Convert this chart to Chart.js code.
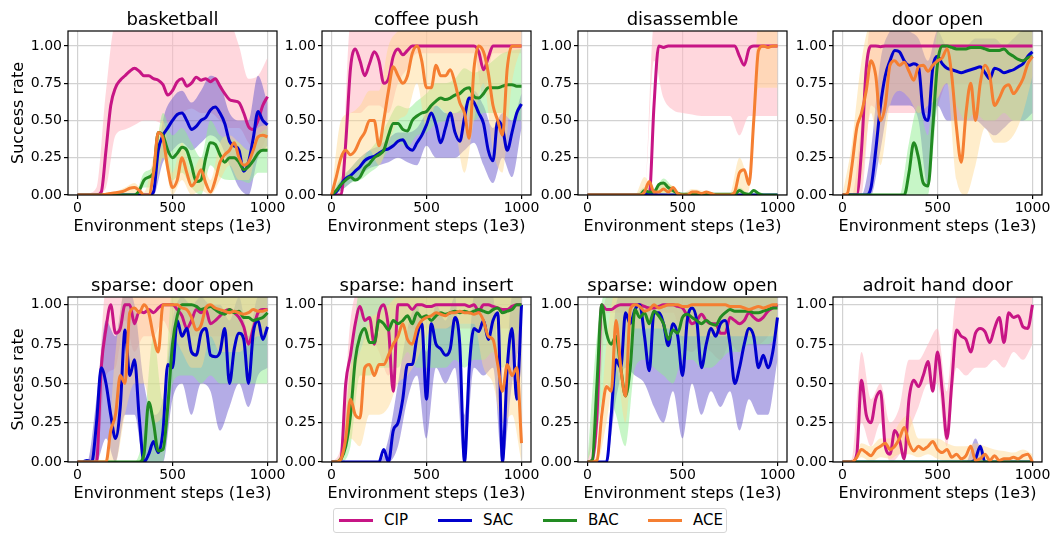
<!DOCTYPE html>
<html>
<head>
<meta charset="utf-8">
<script src="https://cdn.jsdelivr.net/npm/chart.js@4.4.1/dist/chart.umd.min.js"></script>
<style>
  body { margin: 0; background: #fff; font-family: 'DejaVu Sans', sans-serif; }
  #wrap { position: relative; width: 1059px; height: 539px; overflow: hidden; }
  canvas { position: absolute; }
  #legend { position: absolute; left: 333px; top: 508px; width: 394px; height: 25px;
            border: 1px solid #d6d6d6; border-radius: 3px; box-sizing: border-box; }
  .sw { position: absolute; top: 10px; width: 34px; height: 3px; }
  .lb { position: absolute; top: 3px; font-size: 15px; line-height: 17px; color: #000; }
</style>
</head>
<body>
<div id="wrap">
  <div id="legend"></div>
</div>
<script>
// x positions of the mean curves and of the shaded bands
const steps = [0,25,50,75,100,125,150,175,200,225,250,275,300,325,350,375,400,425,450,475,500,
  525,550,575,600,625,650,675,700,725,750,775,800,825,850,875,900,925,950,975,1000];
const bandSteps = [0,50,100,150,200,250,300,350,400,450,500,550,600,650,700,750,800,850,900,950,1000];
const xTicks = [0, 500, 1000];
const yTicks = [0, 0.25, 0.5, 0.75, 1.0];

const METHODS = ['CIP', 'SAC', 'BAC', 'ACE'];
const COLORS = { CIP: '#c71585', SAC: '#0000cd', BAC: '#228b22', ACE: '#f57f32' };
const BAND = { CIP: 'rgba(255,182,193,0.55)', SAC: 'rgba(106,90,205,0.5)',
               BAC: 'rgba(144,238,144,0.5)', ACE: 'rgba(255,215,140,0.45)' };

// --- basketball
const basketball = {
  CIP: [0,0,0,0,0,0.02,0.3,0.6,0.72,0.77,0.8,0.83,0.85,0.83,0.8,0.8,0.78,0.77,0.74,0.67,0.7,0.76,0.78,0.73,0.75,0.79,0.77,0.78,0.76,0.78,0.73,0.68,0.64,0.63,0.62,0.55,0.46,0.44,0.5,0.6,0.66],
  SAC: [0,0,0,0,0,0,0,0,0,0,0,0,0,0,0,0,0.02,0.3,0.4,0.45,0.5,0.54,0.55,0.5,0.44,0.46,0.5,0.52,0.57,0.59,0.55,0.48,0.36,0.33,0.3,0.16,0.22,0.38,0.56,0.5,0.47],
  BAC: [0,0,0,0,0,0,0,0,0,0,0,0,0,0.03,0.1,0.12,0.15,0.42,0.4,0.3,0.25,0.28,0.32,0.3,0.2,0.09,0.1,0.25,0.35,0.34,0.27,0.22,0.25,0.25,0.22,0.17,0.19,0.23,0.28,0.3,0.3],
  ACE: [0,0,0,0,0,0,0.005,0.01,0.015,0.02,0.03,0.045,0.05,0.03,0,0,0.15,0.42,0.38,0.18,0.05,0.1,0.25,0.15,0.06,0.1,0.17,0.08,0.02,0.1,0.22,0.27,0.3,0.35,0.25,0.2,0.22,0.3,0.39,0.4,0.39]
};
const basketballLo = {
  CIP: [0,0,0,0.05,0.4,0.44,0.47,0.5,0.5,0.48,0.5,0.55,0.58,0.55,0.55,0.5,0.45,0.45,0.35,0.28,0.4],
  SAC: [0,0,0,0,0,0,0,0,0,0.22,0.3,0.35,0.3,0.35,0.4,0.35,0.2,0.05,0,0.25,0.33],
  BAC: [0,0,0,0,0,0,0,0.05,0.05,0.25,0.1,0.15,0.05,0,0.2,0.12,0.1,0.1,0.08,0.15,0.15],
  ACE: [0,0,0,0,0,0,0,0,0,0.25,0,0.1,0,0.03,0,0.1,0.2,0.1,0.1,0.3,0.3]
};
const basketballHi = {
  CIP: [0,0.01,0.05,0.7,1.15,1.15,1.15,1.15,1.15,1.15,1.15,1.15,1.15,1.15,1.15,1.15,1.15,1.0,0.78,0.8,0.92],
  SAC: [0,0,0,0,0,0,0,0,0.05,0.5,0.65,0.7,0.62,0.7,0.8,0.75,0.55,0.5,0.5,0.8,0.62],
  BAC: [0,0,0,0,0,0,0,0.15,0.2,0.55,0.4,0.45,0.35,0.25,0.5,0.4,0.38,0.35,0.3,0.4,0.45],
  ACE: [0,0,0,0,0.02,0.05,0.08,0.02,0.25,0.5,0.15,0.35,0.15,0.25,0.1,0.35,0.4,0.35,0.3,0.45,0.47]
};

// --- coffee push
const coffeePush = {
  CIP: [0,0,0,0.35,0.85,0.98,0.9,0.8,0.88,0.96,0.9,0.75,0.78,0.93,0.98,0.94,0.97,1,1,1,1,1,1,1,1,1,1,1,1,1,1,0.96,0.84,0.92,1,1,1,1,1,1,1],
  SAC: [0,0.02,0.07,0.11,0.13,0.16,0.19,0.23,0.25,0.26,0.28,0.3,0.31,0.33,0.36,0.37,0.32,0.3,0.35,0.4,0.47,0.55,0.47,0.35,0.45,0.55,0.42,0.36,0.52,0.65,0.62,0.55,0.48,0.3,0.23,0.5,0.45,0.3,0.42,0.55,0.61],
  BAC: [0,0.03,0.07,0.1,0.12,0.1,0.12,0.18,0.21,0.25,0.27,0.3,0.4,0.48,0.48,0.44,0.43,0.5,0.53,0.55,0.56,0.6,0.63,0.65,0.64,0.65,0.67,0.68,0.71,0.72,0.66,0.65,0.68,0.72,0.72,0.72,0.73,0.74,0.74,0.73,0.73],
  ACE: [0,0.12,0.25,0.3,0.27,0.3,0.37,0.42,0.5,0.5,0.33,0.5,0.7,0.86,0.8,0.75,0.8,0.95,1,0.9,0.72,0.72,0.87,0.8,0.8,0.84,0.75,0.62,0.55,0.38,0.85,1,0.96,0.82,0.6,0.5,0.4,0.85,1,1,1]
};
const coffeePushLo = {
  CIP: [0,0,0.55,0.55,0.6,0.6,0.55,0.75,0.85,0.95,0.95,0.95,0.95,0.95,0.95,0.95,0.65,0.95,0.95,0.95,0.95],
  SAC: [0,0.03,0.08,0.13,0.18,0.2,0.22,0.25,0.22,0.2,0.33,0.25,0.25,0.25,0.3,0.35,0.2,0.08,0.25,0.12,0.45],
  BAC: [0,0.03,0.08,0.1,0.15,0.2,0.3,0.35,0.32,0.4,0.42,0.48,0.5,0.55,0.55,0.5,0.55,0.55,0.55,0.5,0.5],
  ACE: [0,0.1,0.15,0.2,0.3,0.2,0.35,0.5,0.55,0.75,0.45,0.6,0.55,0.45,0.15,0.5,0.75,0.3,0.15,0.75,1.0]
};
const coffeePushHi = {
  CIP: [0,0.05,1.15,1.15,1.15,1.15,1.15,1.15,1.15,1.15,1.15,1.15,1.15,1.15,1.15,1.15,1.15,1.15,1.15,1.15,1.15],
  SAC: [0,0.1,0.18,0.25,0.3,0.33,0.38,0.42,0.42,0.45,0.55,0.6,0.55,0.55,0.6,0.7,0.6,0.45,0.55,0.5,0.68],
  BAC: [0,0.12,0.18,0.25,0.3,0.38,0.5,0.6,0.58,0.63,0.68,0.75,0.75,0.78,0.85,0.82,0.85,0.9,0.95,0.97,0.98],
  ACE: [0,0.5,0.55,0.6,0.7,0.7,1.0,1.1,1.15,1.15,1.15,1.15,1.15,1.15,1.15,1.15,1.15,1.15,1.15,1.15,1.15]
};

// --- disassemble
const disassemble = {
  CIP: [0,0,0,0,0,0,0,0,0,0,0,0,0,0,0.6,1,0.99,1,1,1,1,1,1,1,1,1,1,1,1,1,1,1,0.93,0.87,0.98,1,1,1,1,1,1],
  SAC: [0,0,0,0,0,0,0,0,0,0,0,0,0.005,0.01,0.005,0,0,0,0,0,0,0,0,0,0,0,0,0,0,0,0,0,0,0,0,0,0,0,0,0,0],
  BAC: [0,0,0,0,0,0,0,0,0,0,0,0,0.03,0.02,0.02,0.07,0.08,0.05,0.03,0.01,0.005,0.005,0.005,0.005,0.005,0.005,0.005,0.005,0.005,0.005,0.005,0.005,0.03,0.01,0.005,0.03,0.01,0,0,0,0],
  ACE: [0,0,0,0,0,0,0,0,0,0,0,0,0.02,0.09,0.02,0.02,0.04,0.02,0.05,0.01,0,0,0.02,0.02,0.01,0.02,0.01,0,0,0,0,0.02,0.15,0.17,0.07,0.5,0.97,1,0.99,1,1]
};
const disassembleLo = {
  CIP: [0,0,0,0,0,0,0,0.9,0.65,0.57,0.55,0.54,0.53,0.53,0.53,0.53,0.4,0.53,0.53,0.53,0.53],
  SAC: [0,0,0,0,0,0,0,0,0,0,0,0,0,0,0,0,0,0,0,0,0],
  BAC: [0,0,0,0,0,0,0,0,0,0,0,0,0,0,0,0,0,0,0,0,0],
  ACE: [0,0,0,0,0,0,0,0,0,0,0,0,0,0,0,0,0,0.03,0.72,0.72,0.72]
};
const disassembleHi = {
  CIP: [0,0,0,0,0,0,0.01,1.15,1.15,1.15,1.15,1.15,1.15,1.15,1.15,1.15,1.15,1.15,1.15,1.15,1.15],
  SAC: [0,0,0,0,0,0,0.02,0.02,0.01,0,0,0,0,0,0,0,0,0,0,0,0],
  BAC: [0,0,0,0,0,0,0.05,0.04,0.11,0.05,0.01,0.01,0.01,0.01,0.01,0.01,0.05,0.01,0.02,0,0],
  ACE: [0,0,0,0,0,0,0.12,0.03,0.08,0.06,0.01,0.04,0.03,0.02,0,0.01,0.25,0.12,1.15,1.15,1.15]
};

// --- door open
const doorOpen = {
  CIP: [0,0,0,0,0.3,0.85,1,1,0.995,1,1,1,1,1,1,1,1,1,1,1,1,1,1,1,1,1,1,1,1,1,1,1,1,1,1,1,1,1,1,1,1],
  SAC: [0,0,0,0,0,0,0.05,0.3,0.6,0.8,0.9,0.97,0.96,0.9,0.87,0.88,0.86,0.55,0.5,0.85,0.93,0.88,0.85,0.84,0.83,0.82,0.83,0.84,0.85,0.86,0.82,0.78,0.85,0.84,0.82,0.83,0.84,0.86,0.88,0.93,0.96],
  BAC: [0,0,0,0,0,0,0,0,0,0,0,0,0,0,0.15,0.35,0.25,0.08,0.06,0.45,0.88,1,1,0.99,0.98,0.98,0.98,0.99,0.99,0.99,0.98,0.97,0.97,0.97,0.98,0.95,0.93,0.91,0.9,0.92,0.93],
  ACE: [0,0.01,0.2,0.45,0.55,0.7,0.9,0.8,0.5,0.6,0.87,0.9,0.87,0.89,0.83,0.77,0.86,0.87,0.83,0.87,0.9,0.92,0.98,0.8,0.45,0.22,0.55,0.75,0.5,0.75,0.87,0.8,0.6,0.65,0.72,0.74,0.68,0.72,0.78,0.88,0.93]
};
const doorOpenLo = {
  CIP: [0,0,0,0.6,0.55,0.55,0.55,0.55,0.55,0.55,0.6,0.75,0.75,0.75,0.75,0.75,0.75,0.75,0.75,0.75,0.75],
  SAC: [0,0,0,0,0.3,0.6,0.6,0.6,0.5,0.05,0.6,0.5,0.5,0.5,0.5,0.45,0.4,0.45,0.5,0.5,0.55],
  BAC: [0,0,0,0,0,0,0,0,0,0,0.6,0.75,0.6,0.5,0.55,0.5,0.5,0.55,0.5,0.5,0.5],
  ACE: [0,0,0.1,0.55,0.2,0.6,0.7,0.65,0.55,0.6,0.65,0.75,0.1,0,0.2,0.45,0.35,0.35,0.4,0.55,0.8]
};
const doorOpenHi = {
  CIP: [0,0,0.5,1.15,1.15,1.15,1.15,1.15,1.15,1.15,1.15,1.15,1.15,1.15,1.15,1.15,1.15,1.15,1.15,1.15,1.15],
  SAC: [0,0,0,0.3,0.9,1.1,1.15,1.1,1.05,0.9,1.1,1.0,1.0,1.0,1.05,1.05,1.05,1.0,1.05,1.1,1.1],
  BAC: [0,0,0,0,0,0,0,0.35,0.6,0.4,1.1,1.15,1.15,1.15,1.15,1.15,1.15,1.15,1.15,1.15,1.15],
  ACE: [0,0.35,0.9,1.15,1.15,1.15,1.15,1.15,1.15,1.15,1.15,1.15,1.15,1.15,1.15,1.15,1.15,1.15,1.15,1.15,1.15]
};

// --- sparse: door open
const sparseDoor = {
  CIP: [0,0,0,0,0,0.6,0.85,1,0.82,0.85,1,1,0.88,0.96,0.95,0.97,0.95,0.98,1,1,1,0.97,0.93,0.85,0.9,0.97,0.95,0.97,0.88,0.9,0.93,0.96,0.97,0.95,0.92,0.86,0.75,0.85,0.95,0.97,0.97],
  SAC: [0,0,0.01,0,0.25,0.6,0.5,0.3,0.15,0.35,0.84,0.55,0.65,0.28,0,0.05,0.13,0.06,0.2,0.62,0.6,0.9,0.8,0.85,0.7,0.68,0.82,0.85,0.68,0.67,0.7,0.85,0.5,0.72,0.82,0.78,0.5,0.82,0.9,0.78,0.86],
  BAC: [0,0,0,0,0,0,0,0,0,0,0,0,0,0,0.05,0.38,0.25,0.07,0.08,0.35,0.75,0.93,1,1,1,0.99,0.97,0.98,0.99,0.97,0.95,0.94,0.97,0.95,0.96,0.92,0.92,0.9,0.91,0.92,0.95],
  ACE: [0,0,0,0,0,0,0,0.2,0.3,0.55,0.5,0.95,0.98,0.95,1,0.95,0.8,0.7,1,1,1,1,0.98,0.97,0.92,0.84,0.87,0.98,1,0.98,0.97,0.96,0.95,0.96,0.95,0.94,0.95,0.97,0.96,0.96,0.97]
};
const sparseDoorLo = {
  CIP: [0,0,0,0.55,0.6,0.9,0.7,0.8,0.8,0.9,0.8,0.8,0.8,0.8,0.8,0.8,0.8,0.8,0.6,0.8,0.8],
  SAC: [0,0,0,0.15,0,0.3,0.3,0,0,0,0.4,0.5,0.3,0.5,0.45,0.2,0.35,0.5,0.35,0.55,0.6],
  BAC: [0,0,0,0,0,0,0,0,0,0,0.5,0.55,0.55,0.5,0.55,0.5,0.5,0.5,0.5,0.5,0.5],
  ACE: [0,0,0,0,0,0.3,0.5,0.5,0.25,0.3,0.8,0.7,0.6,0.6,0.8,0.7,0.7,0.7,0.75,0.8,0.8]
};
const sparseDoorHi = {
  CIP: [0,0,0.3,1.1,1.1,1.1,1.1,1.1,1.1,1.1,1.1,1.1,1.1,1.1,1.1,1.1,1.1,1.1,1.1,1.1,1.1],
  SAC: [0,0,0.4,0.9,0.8,1.1,1.0,0.5,0.3,0.4,0.9,1.05,1.0,1.05,1.0,1.0,0.9,1.05,0.8,1.05,1.05],
  BAC: [0,0,0,0,0,0,0,0.2,0.8,0.4,1.1,1.1,1.1,1.1,1.1,1.1,1.1,1.1,1.1,1.1,1.1],
  ACE: [0,0,0,0,0.7,1.1,1.1,1.1,1.1,1.1,1.1,1.1,1.1,1.1,1.1,1.1,1.1,1.1,1.1,1.1,1.1]
};

// --- sparse: hand insert
const sparseHand = {
  CIP: [0,0,0.02,0.5,0.68,0.88,0.99,0.9,0.92,0.75,0.95,1,0.85,0.45,1,1,1,0.97,1,1,0.99,0.99,1,1,1,1,1,1,1,0.99,1,0.96,1,1,0.99,0.98,0.97,0.97,0.99,1,1],
  SAC: [0,0,0,0,0,0,0,0,0,0,0,0.08,0,0.2,0.25,0.4,0.62,0.62,0.8,0.88,0.4,0.88,0.75,0.72,0.68,0.72,0.92,0.75,0,0.6,0.85,0.83,0.9,0.78,0.9,0.95,0,0.6,0.85,0.4,1],
  BAC: [0,0,0.02,0.1,0.3,0.65,0.8,0.85,0.76,0.76,0.9,0.88,0.84,0.9,0.88,0.9,0.93,0.88,0.95,0.92,0.93,0.9,0.93,0.95,0.94,0.95,0.96,0.95,0.96,0.95,0.96,0.97,0.96,0.95,0.97,0.98,0.95,0.96,0.97,1,1],
  ACE: [0,0,0.02,0.15,0.4,0.3,0.28,0.6,0.62,0.55,0.62,0.62,0.68,0.75,0.8,0.88,0.78,0.75,0.85,0.9,0.92,0.93,0.95,0.94,0.93,0.95,0.95,0.96,0.95,0.95,0.94,0.95,0.9,0.8,0.78,0.62,0.45,0.62,0.55,0.6,0.12]
};
const sparseHandLo = {
  CIP: [0,0,0.4,0.7,0.8,0.7,0.55,0.8,0.85,0.85,0.85,0.85,0.85,0.85,0.85,0.85,0.85,0.85,0.85,0.85,0.85],
  SAC: [0,0,0,0,0,0,0,0.1,0.4,0.55,0.15,0.6,0.5,0.6,0,0.6,0.55,0.6,0,0.5,0.8],
  BAC: [0,0,0.1,0.55,0.55,0.6,0.6,0.6,0.7,0.6,0.6,0.6,0.6,0.65,0.6,0.65,0.65,0.7,0.6,0.7,0.9],
  ACE: [0,0,0.15,0.1,0.3,0.3,0.35,0.5,0.55,0.65,0.8,0.85,0.85,0.88,0.88,0.88,0.6,0.5,0.25,0.3,0]
};
const sparseHandHi = {
  CIP: [0,0.1,0.9,1.1,1.1,1.1,1.1,1.1,1.1,1.1,1.1,1.1,1.1,1.1,1.1,1.1,1.1,1.1,1.1,1.1,1.1],
  SAC: [0,0,0,0,0,0,0.15,0.5,0.85,1.0,0.7,1.0,0.9,1.05,0.3,1.05,1.05,1.05,0.2,1.05,1.05],
  BAC: [0,0.05,0.6,1.1,1.1,1.1,1.1,1.1,1.1,1.1,1.1,1.1,1.1,1.1,1.1,1.1,1.1,1.1,1.1,1.1,1.1],
  ACE: [0,0.05,0.6,0.7,0.9,0.95,1.0,1.05,1.05,1.1,1.1,1.1,1.1,1.1,1.1,1.1,1.1,1.1,1.1,1.1,1.1]
};

// --- sparse: window open
const sparseWindow = {
  CIP: [0,0.01,0.3,1,0.97,0.97,0.99,1,1,1,1,1,0.99,0.98,0.98,0.99,1,1,1,0.99,0.98,0.93,0.88,0.9,0.94,0.9,0.88,0.88,0.82,0.82,0.92,0.9,0.88,0.9,0.95,0.92,0.9,0.92,0.96,0.98,1],
  SAC: [0,0,0,0,0,0.3,0.65,0.6,0.95,0.88,0.97,1,0.8,0.58,0.95,0.95,0.88,0.74,0.88,0.8,0.55,0.9,0.98,0.9,0.6,0.75,0.85,0.8,0.88,0.9,0.75,0.5,0.6,0.75,0.85,0.8,0.6,0.68,0.6,0.7,0.92],
  BAC: [0,0.01,0.5,1,0.82,0.75,0.8,0.6,0.42,0.6,0.97,0.92,0.95,0.88,0.96,0.93,0.88,0.78,0.84,0.82,0.92,0.94,0.92,0.9,0.88,0.9,0.88,0.87,0.92,0.95,0.97,0.96,0.96,0.96,0.96,0.95,0.95,0.96,0.97,0.98,0.98],
  ACE: [0,0,0.01,0.3,0.48,0.45,0.9,0.6,0.42,0.97,1,0.99,0.96,0.97,1,0.98,0.99,1,1,1,0.99,0.99,1,1,1,1,1,1,1,1,0.99,0.99,0.99,0.98,0.97,0.98,0.99,0.98,0.99,1,1]
};
const sparseWindowLo = {
  CIP: [0,0.1,0.95,0.95,0.95,0.95,0.95,0.95,0.95,0.95,0.75,0.7,0.75,0.7,0.65,0.75,0.7,0.8,0.75,0.8,0.9],
  SAC: [0,0,0,0.4,0.6,0.55,0.5,0.35,0.25,0.45,0.15,0.5,0.3,0.45,0.35,0.45,0.2,0.4,0.3,0.3,0.65],
  BAC: [0,0.2,0.5,0.3,0.1,0.6,0.65,0.6,0.55,0.5,0.65,0.65,0.6,0.6,0.65,0.7,0.7,0.75,0.75,0.75,0.8],
  ACE: [0,0,0.25,0.6,0.25,0.85,0.85,0.85,0.85,0.85,0.8,0.8,0.8,0.8,0.8,0.8,0.8,0.8,0.8,0.8,0.8]
};
const sparseWindowHi = {
  CIP: [0,0.5,1.05,1.05,1.05,1.05,1.05,1.05,1.05,1.05,1.05,1.05,1.05,1.05,1.05,1.05,1.05,1.05,1.05,1.05,1.05],
  SAC: [0,0,0,1.0,1.1,1.1,1.1,1.1,1.1,1.1,1.1,1.1,1.1,1.1,1.1,1.1,1.1,1.1,1.1,1.1,1.1],
  BAC: [0,0.8,1.1,1.1,1.1,1.1,1.1,1.1,1.1,1.1,1.1,1.1,1.1,1.1,1.1,1.1,1.1,1.1,1.1,1.1,1.1],
  ACE: [0,0.05,0.75,1.1,1.1,1.1,1.1,1.1,1.1,1.1,1.1,1.1,1.1,1.1,1.1,1.1,1.1,1.1,1.1,1.1,1.1]
};

// --- adroit hand door
const adroitDoor = {
  CIP: [0,0,0,0.05,0.52,0.3,0.25,0.4,0.45,0.1,0.05,0.2,0.14,0.02,0.4,0.52,0.48,0.55,0.64,0.45,0.7,0.45,0.15,0.5,0.84,0.8,0.78,0.7,0.82,0.85,0.83,0.76,0.85,0.92,0.76,0.95,0.92,0.93,0.86,0.85,1],
  SAC: [0,0,0,0,0,0,0,0,0,0,0,0,0,0,0,0,0,0,0,0,0,0,0,0,0,0,0,0,0.02,0.1,0,0,0,0,0,0,0,0,0,0,0],
  BAC: [0,0,0,0,0,0,0,0,0,0,0,0,0,0,0,0,0,0,0,0,0,0,0,0,0,0,0,0,0,0,0,0,0,0,0,0,0,0,0,0,0],
  ACE: [0,0,0,0.03,0.08,0.06,0.04,0.08,0.1,0.12,0.08,0.1,0.15,0.22,0.12,0.07,0.1,0.08,0.1,0.13,0.08,0.06,0.08,0.03,0.05,0.02,0.04,0.1,0.01,0.02,0.05,0.01,0.04,0.01,0.02,0.02,0.03,0.02,0.04,0.05,0]
};
const adroitDoorLo = {
  CIP: [0,0,0.25,0.1,0.25,0,0.05,0.2,0.35,0.5,0.5,0.1,0.6,0.55,0.6,0.6,0.65,0.6,0.7,0.65,0.75],
  SAC: [0,0,0,0,0,0,0,0,0,0,0,0,0,0,0,0,0,0,0,0,0],
  BAC: [0,0,0,0,0,0,0,0,0,0,0,0,0,0,0,0,0,0,0,0,0],
  ACE: [0,0,0.03,0,0.03,0.02,0.05,0.05,0.03,0.05,0.02,0,0,0,0,0,0,0,0,0,0]
};
const adroitDoorHi = {
  CIP: [0,0.02,0.7,0.4,0.5,0.25,0.35,0.65,0.65,0.75,0.85,0.45,1.05,1.05,1.05,1.05,1.05,1.05,1.05,1.05,1.05],
  SAC: [0,0,0,0,0,0,0,0,0,0,0,0,0,0,0.15,0,0,0,0,0,0],
  BAC: [0,0,0,0,0,0,0,0,0,0,0,0,0,0,0,0,0,0,0,0,0],
  ACE: [0,0,0.12,0.1,0.15,0.15,0.25,0.3,0.15,0.15,0.15,0.12,0.1,0.1,0.12,0.1,0.08,0.07,0.06,0.08,0.05]
};

const panels = [
  { title: 'basketball', mean: basketball, lo: basketballLo, hi: basketballHi },
  { title: 'coffee push', mean: coffeePush, lo: coffeePushLo, hi: coffeePushHi },
  { title: 'disassemble', mean: disassemble, lo: disassembleLo, hi: disassembleHi },
  { title: 'door open', mean: doorOpen, lo: doorOpenLo, hi: doorOpenHi },
  { title: 'sparse: door open', mean: sparseDoor, lo: sparseDoorLo, hi: sparseDoorHi },
  { title: 'sparse: hand insert', mean: sparseHand, lo: sparseHandLo, hi: sparseHandHi },
  { title: 'sparse: window open', mean: sparseWindow, lo: sparseWindowLo, hi: sparseWindowHi },
  { title: 'adroit hand door', mean: adroitDoor, lo: adroitDoorLo, hi: adroitDoorHi }
];

// layout of the 2x4 grid (plot areas in page pixels)
const colLeft = [68, 322, 578, 833];
const plotW = 209;
const rowTop = [31, 297];
const plotH = [164, 165];
const yMax = [1.1, 1.05];
const TITLE_H = 23;   // 18px * 1.2 + padding
const X_H = 43;
const RIGHT_PAD = 24;
const GRID = '#d2d2d2';

Chart.defaults.font.family = "'DejaVu Sans', sans-serif";
Chart.defaults.color = '#000';

// black box round each axes, like matplotlib spines
const frame = {
  id: 'frame',
  afterDatasetsDraw(chart) {
    const { ctx, chartArea: a } = chart;
    ctx.save();
    ctx.strokeStyle = '#000';
    ctx.lineWidth = 1.2;
    ctx.strokeRect(a.left, a.top, a.right - a.left, a.bottom - a.top);
    ctx.restore();
  }
};

const toPts = (xs, ys) => xs.map((x, i) => ({ x, y: ys[i] }));

function makePanel(p, idx) {
  const row = Math.floor(idx / 4), col = idx % 4;
  const yw = col === 0 ? colLeft[0] : 46;
  const canvas = document.createElement('canvas');
  canvas.width = yw + plotW + RIGHT_PAD;
  canvas.height = TITLE_H + plotH[row] + X_H;
  canvas.style.left = (colLeft[col] - yw) + 'px';
  canvas.style.top = (rowTop[row] - TITLE_H) + 'px';
  document.getElementById('wrap').appendChild(canvas);

  const datasets = [];
  METHODS.forEach((m, k) => {
    datasets.push({
      data: toPts(steps, p.mean[m]), borderColor: COLORS[m], borderWidth: 3,
      pointRadius: 0, fill: false, order: 3 - k, cubicInterpolationMode: 'monotone'
    });
  });
  METHODS.forEach((m, k) => {
    datasets.push({
      data: toPts(bandSteps, p.hi[m]), borderColor: 'rgba(0,0,0,0)', borderWidth: 0,
      backgroundColor: BAND[m], pointRadius: 0, fill: '+1', order: 7 - k, cubicInterpolationMode: 'monotone'
    });
    datasets.push({
      data: toPts(bandSteps, p.lo[m]), borderColor: 'rgba(0,0,0,0)', borderWidth: 0,
      pointRadius: 0, fill: false, order: 7 - k, cubicInterpolationMode: 'monotone'
    });
  });

  return new Chart(canvas, {
    type: 'line',
    data: { datasets },
    plugins: [frame],
    options: {
      responsive: false,
      animation: false,
      events: [],
      layout: { padding: { left: 0, right: RIGHT_PAD, top: 0, bottom: 0 } },
      plugins: {
        legend: { display: false },
        tooltip: { enabled: false },
        title: {
          display: true, text: p.title, color: '#000', fullSize: false,
          font: { size: 18, weight: 'normal' }, padding: { top: 1.4, bottom: 0 }
        }
      },
      scales: {
        x: {
          type: 'linear', min: -50, max: 1050,
          afterBuildTicks: s => { s.ticks = xTicks.map(v => ({ value: v })); },
          afterFit: s => { s.height = X_H; s.paddingLeft = 0; s.paddingRight = 0; },
          ticks: { autoSkip: false, maxRotation: 0, font: { size: 14 }, color: '#000', padding: 1,
                   callback: v => String(v) },
          grid: { color: GRID, lineWidth: 1.2, tickColor: '#000', tickLength: 4 },
          border: { display: false },
          title: { display: true, text: 'Environment steps (1e3)', color: '#000',
                   font: { size: 16 }, padding: { top: 0, bottom: 2 } }
        },
        y: {
          min: 0, max: yMax[row],
          afterBuildTicks: s => { s.ticks = yTicks.map(v => ({ value: v })); },
          afterFit: s => { s.width = yw; s.paddingTop = 0; s.paddingBottom = 0; },
          ticks: { font: { size: 14 }, color: '#000', padding: 2, callback: v => v.toFixed(2) },
          grid: { color: GRID, lineWidth: 1.2, tickColor: '#000', tickLength: 4 },
          border: { display: false },
          title: { display: col === 0, text: 'Success rate', color: '#000',
                   font: { size: 16 }, padding: { top: 9, bottom: 0 } }
        }
      }
    }
  });
}

panels.forEach(makePanel);

// shared legend under the grid
const legend = document.getElementById('legend');
const swLeft = [5, 104, 209, 314];
METHODS.forEach((m, k) => {
  const sw = document.createElement('div');
  sw.className = 'sw';
  sw.style.left = swLeft[k] + 'px';
  sw.style.background = COLORS[m];
  legend.appendChild(sw);
  const lb = document.createElement('div');
  lb.className = 'lb';
  lb.style.left = (swLeft[k] + 45) + 'px';
  lb.textContent = m;
  legend.appendChild(lb);
});
</script>
</body>
</html>
